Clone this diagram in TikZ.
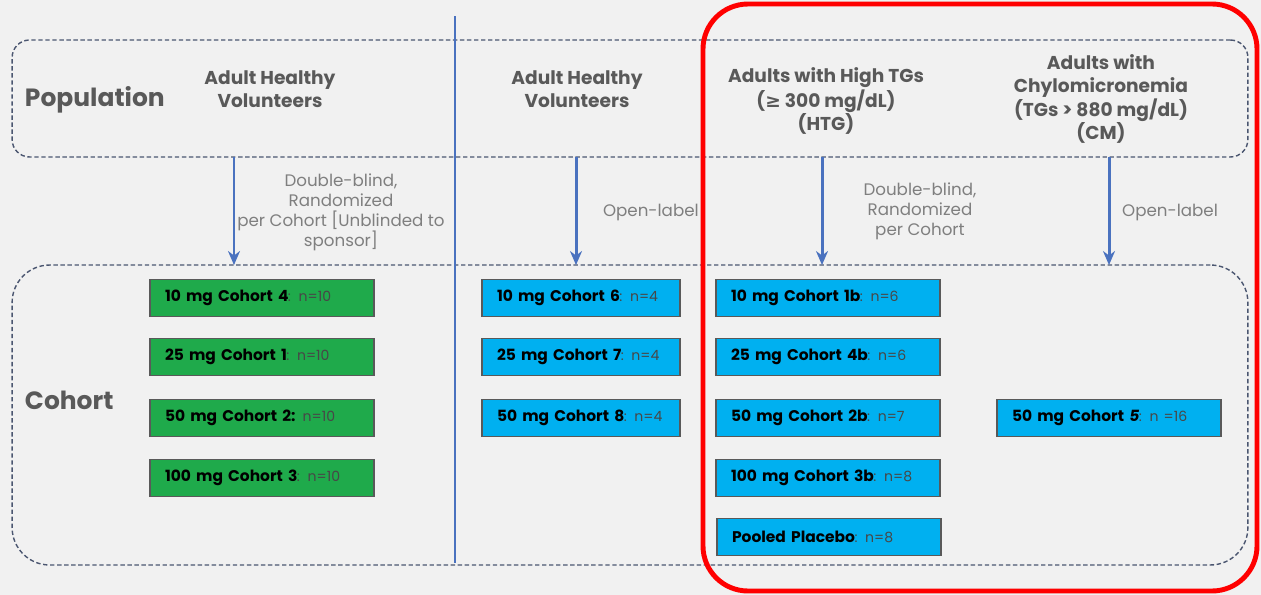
\documentclass[tikz,border=0pt]{standalone}
\usepackage{fontspec}
\setmainfont{Poppins}
\newfontfamily\symfont{DejaVu Sans}
\usetikzlibrary{arrows.meta}
\definecolor{bggray}{HTML}{F1F1F1}
\definecolor{lineblue}{HTML}{4A72BF}
\definecolor{armgreen}{HTML}{1FAA4B}
\definecolor{armcyan}{HTML}{00B0F0}
\definecolor{titlegray}{HTML}{595959}
\definecolor{notegray}{HTML}{7F7F7F}
\definecolor{framegray}{HTML}{4B5670}
\definecolor{hired}{HTML}{FF0000}
\newcommand{\arm}[2]{{\bfseries\color{black}#1}\kern-0.3pt{\fontsize{8}{10}\selectfont#2}}
\begin{document}
\begin{tikzpicture}[x=0.02cm,y=-0.02cm,inner sep=0pt,outer sep=0pt,
frame/.style={draw=framegray,line width=0.8pt,dash pattern=on 2.5pt off 1.5pt,rectangle,minimum width=24.72cm},
armbox/.style={draw=black!65,line width=0.8pt,rectangle,inner xsep=0.3cm,minimum height=0.74cm,text width=3.88cm,align=left,text=black!72,font=\fontsize{8.8}{10}\selectfont},
greenarm/.style={armbox,fill=armgreen},
cyanarm/.style={armbox,fill=armcyan},
narrowarm/.style={cyanarm,text width=3.36cm},
heading/.style={text=titlegray,font=\bfseries\fontsize{14.2}{17}\selectfont,anchor=west},
group/.style={text=titlegray,align=center,font=\bfseries\fontsize{10.6}{12.8}\selectfont},
note/.style={text=notegray,align=center,font=\fontsize{9.5}{11.4}\selectfont},
flow/.style={draw=lineblue,line width=1.7pt,-{Stealth[length=0.28cm,width=0.24cm]}}]
\useasboundingbox[fill=bggray] (0,0) rectangle (1261,595);
% frames
\node[frame,rounded corners=0.35cm,minimum height=2.34cm] (pop) at (630,98.5) {};
\node[frame,rounded corners=0.75cm,minimum height=6cm] (coh) at (630,415) {};
\node[heading] (popname) at (25,100) {Population};
\node[heading] (cohname) at (25,400) {Cohort};
% divider
\coordinate (divtop) at (455,16);
\coordinate (divbot) at (455,563);
\draw[lineblue,line width=1.7pt] (divtop) -- (divbot);
% populations
\node[group] (ahv1) at (270,89) {Adult Healthy\\Volunteers};
\node[group] (ahv2) at (577,89) {Adult Healthy\\Volunteers};
\node[group] (htg) at (826,101) {Adults with High TGs\\({\symfont ≥} 300 mg/dL)\\(HTG)};
\node[group] (cm) at (1101,99) {Adults with\\Chylomicronemia\\(TGs > 880 mg/dL)\\(CM)};
% arrows
\coordinate (a1) at (234,0);
\coordinate (a2) at (576,0);
\coordinate (a3) at (822,0);
\coordinate (a4) at (1109,0);
\foreach \a in {a1,a2,a3,a4}
  \draw[flow] (\a |- pop.south) -- (\a |- coh.north);
\node[note] (db1) at (341,212) {Double-blind,\\Randomized\\per Cohort [Unblinded to\\sponsor]};
\node[note,anchor=west] (ol1) at (603,212) {Open-label};
\node[note] (db2) at (920,211) {Double-blind,\\Randomized\\per Cohort};
\node[note] (ol2) at (1170,212) {Open-label};
% healthy, blinded
\node[greenarm] (g4) at (262,298) {\arm{10 mg Cohort 4}{: n=10}};
\node[greenarm] (g1) at (262,357) {\arm{25 mg Cohort 1}{: n=10}};
\node[greenarm] (g2) at (262,418) {\arm{50 mg Cohort 2:}{ n=10}};
\node[greenarm] (g3) at (262,478) {\arm{100 mg Cohort 3}{: n=10}};
% healthy, open-label
\node[narrowarm] (o6) at (581,298) {\arm{10 mg Cohort 6}{: n=4}};
\node[narrowarm] (o7) at (581,357) {\arm{25 mg Cohort 7}{: n=4}};
\node[narrowarm] (o8) at (581,418) {\arm{50 mg Cohort 8}{: n=4}};
% HTG
\node[cyanarm] (h1b) at (828,298) {\arm{10 mg Cohort 1b}{: n=6}};
\node[cyanarm] (h4b) at (828,357) {\arm{25 mg Cohort 4b}{: n=6}};
\node[cyanarm] (h2b) at (828,418) {\arm{50 mg Cohort 2b}{: n=7}};
\node[cyanarm] (h3b) at (828,478) {\arm{100 mg Cohort 3b}{: n=8}};
\node[cyanarm] (pp) at (829,537) {\arm{Pooled Placebo}{: n=8}};
% CM
\node[cyanarm] (c5) at (1109,418) {\arm{50 mg Cohort \textit{5}}{: n =16}};
% highlight
\coordinate (hlnw) at (703,4);
\coordinate (hlse) at (1257,591);
\draw[hired,line width=2.8pt,rounded corners=0.9cm] (hlnw) rectangle (hlse);
\end{tikzpicture}
\end{document}
